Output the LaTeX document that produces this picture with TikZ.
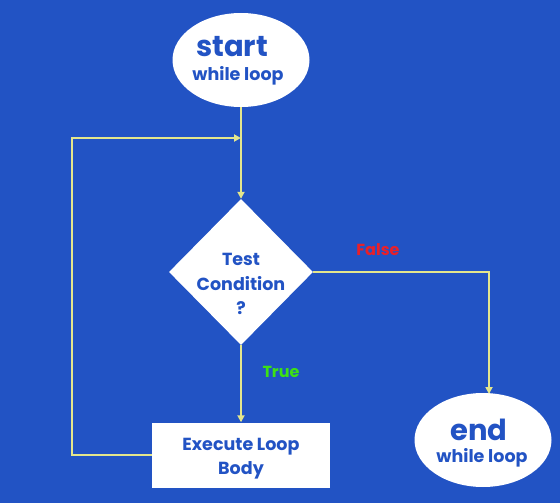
\documentclass[tikz,border=0pt]{standalone}
\usepackage{fontspec}
\setmainfont{Poppins}
\usetikzlibrary{shapes.geometric,arrows.meta}
\definecolor{bg}{RGB}{34,83,196}
\definecolor{txt}{RGB}{34,83,196}
\definecolor{ln}{RGB}{228,230,140}
\definecolor{falsec}{RGB}{232,32,42}
\definecolor{truec}{RGB}{60,225,20}
\tikzset{
  term/.style={ellipse,fill=white,minimum width=137pt,minimum height=94pt,inner sep=0pt},
  big/.style={anchor=base,inner sep=0pt,text=txt,font=\bfseries\fontsize{29}{32}\selectfont},
  small/.style={anchor=base,inner sep=0pt,text=txt,font=\bfseries\fontsize{17.5}{20}\selectfont},
  cond/.style={diamond,fill=white,minimum width=144pt,minimum height=146pt,inner sep=0pt},
  body/.style={rectangle,fill=white,minimum width=178pt,minimum height=65pt,inner sep=0pt},
  conn/.style={draw=ln,line width=2pt,-{Triangle[width=7pt,length=7pt]}},
  lbl/.style={anchor=base,inner sep=0pt,font=\bfseries\fontsize{16}{18}\selectfont}
}
\begin{document}
\begin{tikzpicture}[x=1pt,y=-1pt]
\fill[bg] (0,0) rectangle (560,503);
\useasboundingbox (0,0) rectangle (560,503);
\node[term] (start) at (241,60) {};
\node[big] (starttxt) at (232,57) {start};
\node[small] (startsub) at (238,81) {while loop};
\node[cond] (test) at (241,272) {};
\node[small] (t1) at (241,265) {Test};
\node[small] (t2) at (241,290) {Condition};
\node[small] (t3) at (241,314) {?};
\node[body] (exec) at (241,455) {};
\node[small] (e1) at (241,450) {Execute Loop};
\node[small] (e2) at (241,474) {Body};
\node[term] (end) at (483,440) {};
\node[big] (endtxt) at (479,440) {end};
\node[small] (endsub) at (482,462) {while loop};
\coordinate (loopL) at (72,138);
\coordinate (join) at (241,138);
\coordinate (endtop) at (489,394);
\draw[conn] (start.south) -- (test.north);
\draw[conn] (exec.west) -| (loopL) -- (join);
\draw[conn] (test.east) -| (endtop);
\draw[conn] (test.south) -- (exec.north);
\node[lbl,text=falsec] (flbl) at (378,255) {False};
\node[lbl,text=truec] (tlbl) at (281,377) {True};
\end{tikzpicture}
\end{document}
